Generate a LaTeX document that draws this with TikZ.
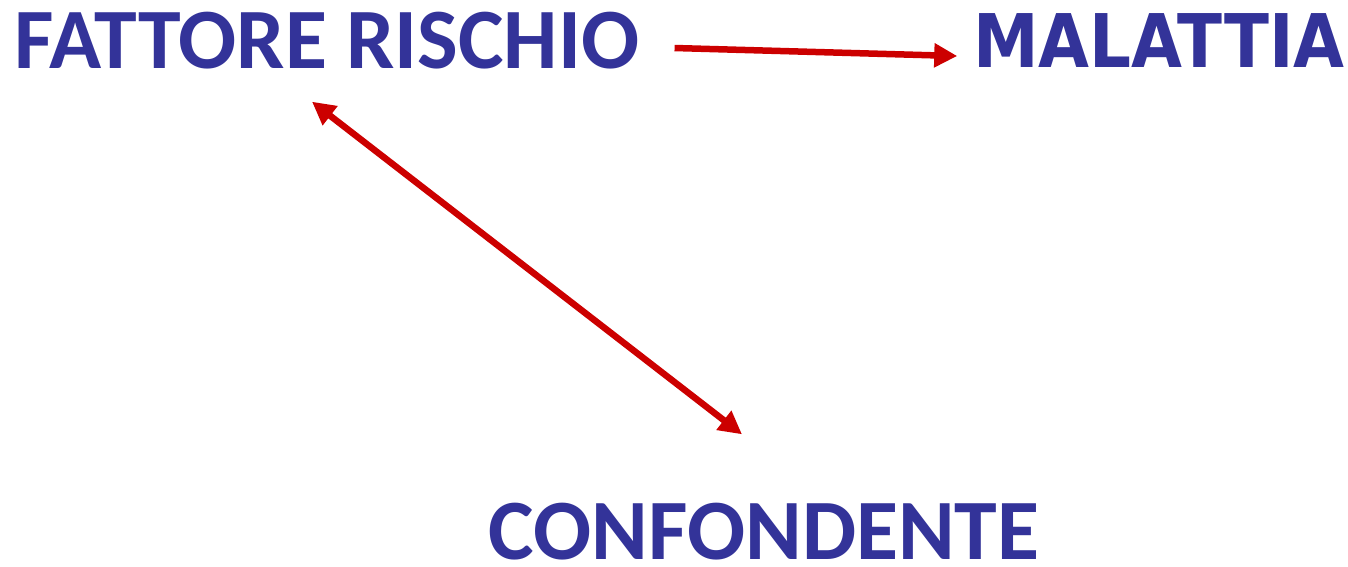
\documentclass[tikz,border=0pt]{standalone}
\usepackage{fontspec}
\setmainfont{Carlito}
\newfontfamily\vfont{DejaVu Sans}
\usetikzlibrary{arrows.meta, positioning}
\definecolor{tblue}{HTML}{333399}
\definecolor{ared}{HTML}{CC0000}
\tikzset{lbl/.style={text=tblue, inner sep=0pt, font=\fontsize{86}{86}\selectfont\bfseries},
  link/.style={ared, line width=6.5pt, -{Triangle[length=23pt, width=23pt]}}}

\begin{document}
\begin{tikzpicture}[x=1pt, y=1pt]
  \useasboundingbox (0,0) rectangle (1348,-566);
  \node[lbl] (risk) at (327,-41) {FATTORE RISCHIO};
  \node[lbl, font=\vfont\fontsize{74}{74}\selectfont\bfseries, xscale=0.89] (malattia) at (1159,-41) {MALATTIA};
  \node[lbl] (conf) at (764,-532) {CONFONDENTE};
  \draw[link] ([xshift=35pt, yshift=-7pt]risk.east) -- ([xshift=-16pt, yshift=-15pt]malattia.west);
  \draw[link, {Triangle[length=23pt, width=23pt]}-{Triangle[length=23pt, width=23pt]}]
     ([xshift=-15pt, yshift=-32pt]risk.south) -- ([xshift=-22pt, yshift=69pt]conf.north);
\end{tikzpicture}
\end{document}
